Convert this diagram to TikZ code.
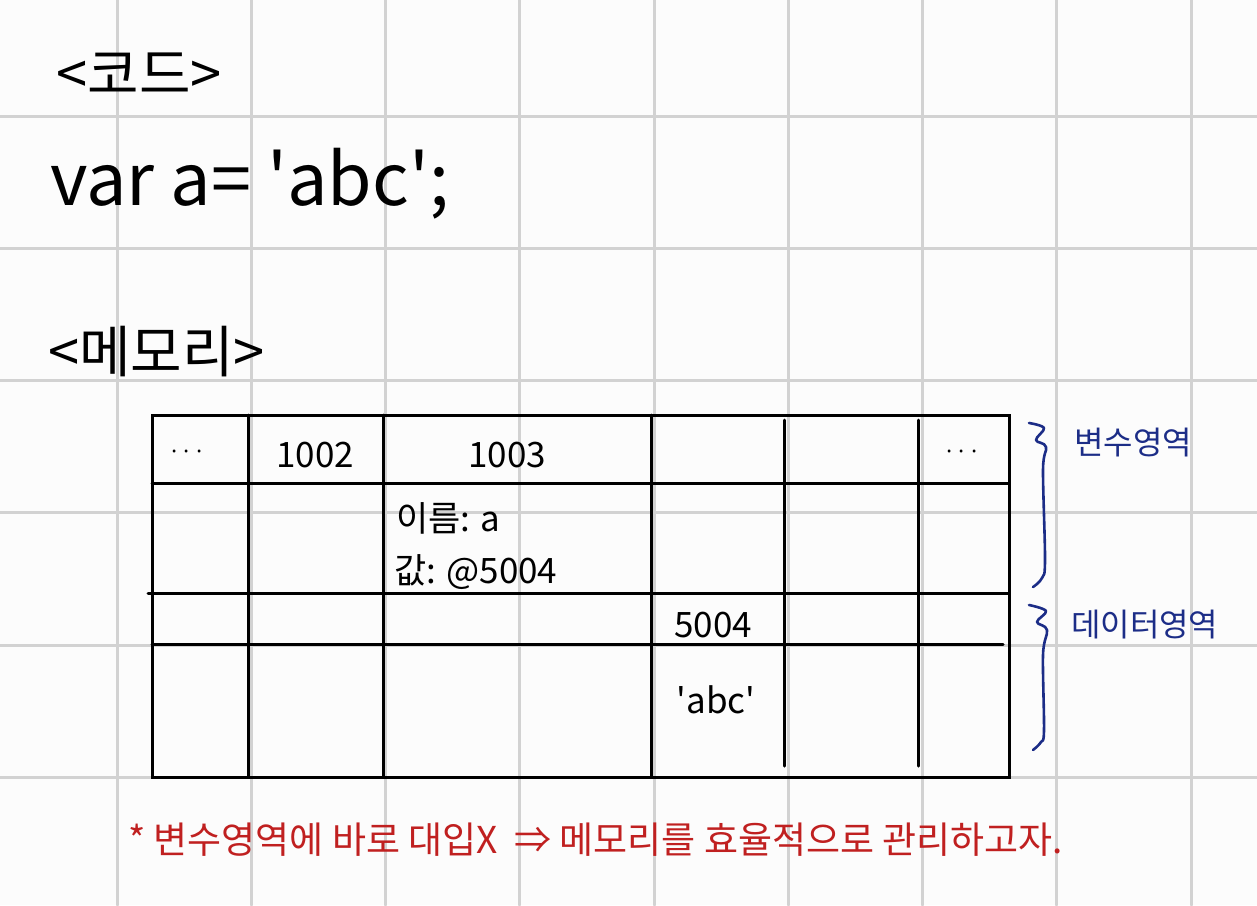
\documentclass[tikz,border=0pt]{standalone}
\usepackage{fontspec}
\newfontfamily\hand{Noto Sans CJK KR}
\usetikzlibrary{positioning}

\definecolor{paper}{RGB}{252,252,252}
\definecolor{gridgray}{RGB}{210,210,210}
\definecolor{penblue}{RGB}{28,45,135}
\definecolor{penred}{RGB}{192,32,32}

\tikzset{
  head/.style={font=\hand\fontsize{56}{62}\selectfont, inner sep=0pt},
  codetext/.style={font=\hand\fontsize{72}{80}\selectfont, inner sep=0pt},
  celltext/.style={font=\hand\fontsize{35}{40}\selectfont, inner sep=0pt},
  dots/.style={font=\hand\fontsize{22}{26}\selectfont, inner sep=0pt},
  arealabel/.style={font=\hand\fontsize{32}{36}\selectfont, text=penblue, inner sep=0pt},
  areabrace/.style={penblue, line width=2.6pt, line cap=round, line join=round},
  memo/.style={font=\hand\fontsize{37}{42}\selectfont, text=penred, inner sep=0pt}
}

\begin{document}
\begin{tikzpicture}[x=1pt, y=-1pt, line cap=round]

\fill[paper] (0,0) rectangle (1257,905);
\useasboundingbox (0,0) rectangle (1257,905);

% paper grid
\begin{scope}[gridgray, line width=3pt]
\foreach \i in {0,...,8}
\draw ({117+134.25*\i},0) -- ++(0,905);
\foreach \j in {0,...,6}
\draw (0,{116+132.3*\j}) -- ++(1257,0);
\end{scope}

% code
\node[head] (codehead) at (139,74) {<코드>};
\node[codetext, anchor=base west] (codeline) at (50,205) {var a= 'abc';};

% memory
\node[head, anchor=west] (memhead) at (48,352) {<메모리>};

\begin{scope}[line width=3pt]
\draw (152,415) rectangle (1009,777);
\draw (152,483) -- (1009,483);
\draw (148,593) -- (1009,593);
\draw (152,644) -- (1003,644);
\foreach \x in {248,383,651}
\draw (\x,415) -- (\x,777);
\foreach \x in {784,918}
\draw (\x,420) -- (\x,766);
\end{scope}

\node[dots] (dotsleft) at (187,455) {···};
\node[celltext] (addr1002) at (315,455) {1002};
\node[celltext] (addr1003) at (507,455) {1003};
\node[dots] (dotsright) at (962,455) {···};
\node[celltext, anchor=west] (varname) at (396,518) {이름: a};
\node[celltext, anchor=west] (varvalue) at (394,572) {값: @5004};
\node[celltext] (addr5004) at (713,625) {5004};
\node[celltext] (strval) at (716,700) {'abc'};

% areas
\draw[areabrace] plot[smooth, tension=0.6] coordinates
  {(1029,423) (1044,428) (1036,440) (1046,447) (1043,470) (1045,560) (1042,578) (1033,587)};
\draw[areabrace] plot[smooth, tension=0.6] coordinates
  {(1029,605) (1046,611) (1037,622) (1047,630) (1043,655) (1044,730) (1041,742) (1033,750)};

\node[arealabel, anchor=west] (varea) at (1074,443) {변수영역};
\node[arealabel, anchor=west] (darea) at (1071,625) {데이터영역};

% note
\node[memo, anchor=west] (note) at (128,840) {* 변수영역에 바로 대입X \ ⇒ 메모리를 효율적으로 관리하고자.};

\end{tikzpicture}
\end{document}
